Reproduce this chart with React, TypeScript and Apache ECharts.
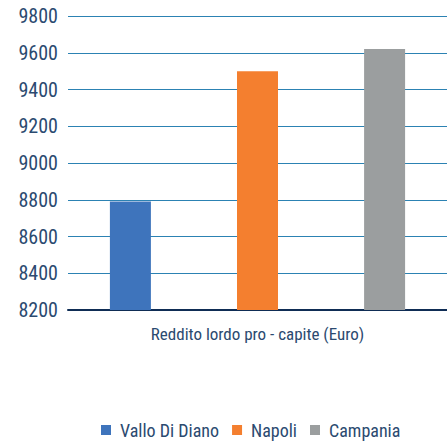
import React, { useEffect, useRef } from "react";
import * as echarts from "echarts";

const categories = ["Reddito lordo pro - capite (Euro)"];
const seriesNames = ["Vallo Di Diano", "Napoli", "Campania"];
const vallo = [8790];
const napoli = [9500];
const campania = [9620];
const colors = ["#3e74bc", "#f47f2f", "#9b9e9f"];

const FONT = "'Roboto Condensed', 'Liberation Sans Narrow', 'Arial Narrow', Roboto, sans-serif";
const TXT = "#2b4a70";

export default function App() {
  const ref = useRef<HTMLDivElement>(null);
  useEffect(() => {
    const chart = echarts.init(ref.current!, null, { renderer: "svg" });
    const data = [vallo, napoli, campania];
    chart.setOption({
      animation: false,
      color: colors,
      textStyle: { fontFamily: FONT },
      grid: { left: 68, right: 0, top: 16, bottom: 131, containLabel: false },
      legend: {
        data: seriesNames,
        top: 416,
        left: 96,
        icon: "rect",
        itemWidth: 10,
        itemHeight: 10,
        itemGap: 13,
        textStyle: { color: TXT, fontSize: 18, fontFamily: FONT, padding: [0, 0, 0, 4] },
      },
      xAxis: {
        type: "category",
        data: categories,
        axisLine: { lineStyle: { color: "#0f2d55", width: 2 } },
        axisTick: { show: false },
        axisLabel: { color: TXT, fontSize: 17, margin: 15, fontFamily: FONT },
      },
      yAxis: {
        type: "value",
        min: 8200,
        max: 9800,
        interval: 200,
        axisLine: { show: false },
        axisTick: { show: false },
        axisLabel: {
          color: TXT,
          fontSize: 20,
          margin: 10,
          fontFamily: FONT,
          formatter: (v: number) => String(v),
        },
        splitLine: { lineStyle: { color: "#2c82b3", width: 1 } },
      },
      series: seriesNames.map((n, i) => ({
        name: n,
        type: "bar",
        data: data[i],
        barWidth: 41,
        barGap: "210%",
        itemStyle: { color: colors[i] },
      })),
    });
    return () => chart.dispose();
  }, []);
  return (
    <div
      ref={ref}
      style={{ position: "fixed", left: 0, top: 0, width: 447, height: 441, background: "#fff" }}
    />
  );
}
